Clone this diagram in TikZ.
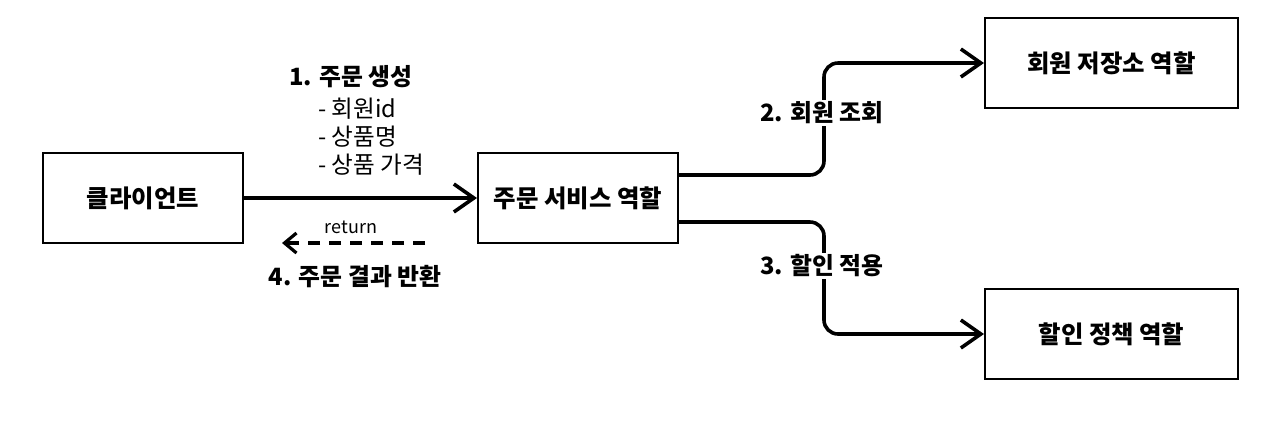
\documentclass[tikz,border=0pt]{standalone}
\usepackage{fontspec}
\setmainfont{Noto Sans CJK KR}
\usetikzlibrary{arrows.meta}

\tikzset{
  roleBox/.style={draw=black, line width=1pt, fill=white, minimum width=100pt, minimum height=45pt, font=\fontsize{12.2}{14}\selectfont\bfseries},
  flow/.style={line width=1.8pt, rounded corners=7pt, -{Straight Barb[length=10pt, width=14pt, line width=1.8pt]}},
  backFlow/.style={line width=1.6pt, dash pattern=on 6pt off 4.5pt, -{Straight Barb[length=6pt, width=10pt, line width=1.6pt]}},
  stepLabel/.style={font=\fontsize{11.9}{13}\selectfont\bfseries, inner sep=1pt},
  noteLabel/.style={font=\fontsize{11.8}{14}\selectfont, align=left, inner sep=0pt}
}

\begin{document}
\begin{tikzpicture}[x=0.5pt, y=-0.5pt]
\useasboundingbox (0,0) rectangle (1280,420);

% roles
\node[roleBox] (client) at (143,198) {클라이언트};
\node[roleBox] (svc) at (578,198) {주문 서비스 역할};
\node[roleBox, minimum width=126.5pt] (mem) at (1111.5,63) {회원 저장소 역할};
\node[roleBox, minimum width=126.5pt] (disc) at (1111.5,334) {할인 정책 역할};

% 1. order request
\draw[flow] (client.east) -- (svc.west);
\node[stepLabel] (createLbl) at (351,77) {1. 주문 생성};
\node[noteLabel, anchor=west] (createArgs) at (318,137) {- 회원id\\- 상품명\\- 상품 가격};

% 2. member lookup
\draw[flow] ([yshift=11.5pt]svc.east) -- ++(145,0) |- (mem.west);
\node[stepLabel, fill=white] (memLbl) at (822,113) {2. 회원 조회};

% 3. discount
\draw[flow] ([yshift=-12pt]svc.east) -- ++(145,0) |- (disc.west);
\node[stepLabel, fill=white] (discLbl) at (822,266) {3. 할인 적용};

% 4. result back to client
\coordinate (retFrom) at (425,243);
\coordinate (retTo) at (282,243);
\draw[backFlow] (retFrom) -- (retTo);
\node[font=\fontsize{9}{10}\selectfont, inner sep=1pt] (retLbl) at (351,227) {return};
\node[stepLabel] (resultLbl) at (355,277) {4. 주문 결과 반환};
\end{tikzpicture}
\end{document}
